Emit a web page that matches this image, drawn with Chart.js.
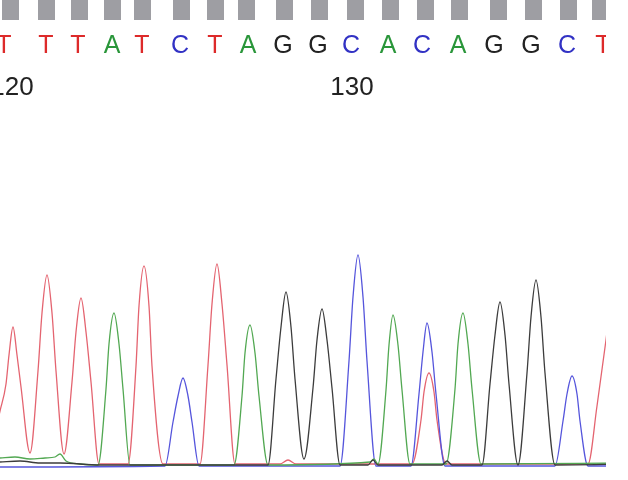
<!DOCTYPE html>
<html>
<head>
<meta charset="utf-8">
<script src="https://cdn.jsdelivr.net/npm/chart.js@4/dist/chart.umd.min.js"></script>
<style>
  body { margin:0; background:#fff; }
  #clip { width:606px; height:480px; overflow:hidden; }
</style>
</head>
<body>
<div id="clip"><canvas id="traza" width="628" height="480"></canvas></div>
<script>
// base calls (top row), letter positions and quality bar positions
const basePos = [4, 46, 78, 112, 142, 180, 215, 248, 283, 318, 351, 388, 422, 458, 494, 531, 567, 603];
const barPos = [10, 46, 79, 113, 142, 181, 215, 246, 284, 319, 355, 390, 425, 460, 498, 533, 568, 600];
const baseCalls = ['T','T','T','A','T','C','T','A','G','G','C','A','C','A','G','G','C','T'];
const numPos = [12, 352];
const numLabels = ['120', '130'];

// traces: scan position / signal
const tX = [-8, 0, 6, 9, 13, 17, 21, 30, 38, 42, 47, 52, 56, 64, 72, 76, 81, 86, 91, 99, 128, 136, 139, 144, 149, 152, 163, 200, 208, 212, 217, 222, 227, 235, 280, 288, 296, 412, 421, 424, 429, 434, 437, 446, 588, 597, 606, 614];
const tY = [20, 55, 82, 111, 139, 111, 79, 13, 95, 153, 191, 153, 95, 12, 84, 134, 168, 134, 84, 2, 2, 100, 160, 200, 160, 100, 2, 2, 101, 162, 202, 162, 101, 2, 2, 6, 2, 2, 46, 74, 93, 74, 46, 2, 2, 60, 126, 190];
const aX = [0, 15, 30, 45, 55, 60, 66, 80, 98, 106, 109, 114, 119, 123, 130, 234, 242, 245, 250, 255, 259, 268, 370, 374, 378, 386, 389, 393, 398, 402, 410, 446, 455, 458, 463, 468, 472, 481, 628];
const aY = [8, 9, 7, 8, 9, 12, 5, 2, 1, 77, 122, 153, 122, 77, 1, 1, 70, 113, 141, 113, 70, 1, 4, 7, 2, 76, 121, 151, 121, 76, 2, 2, 77, 122, 153, 122, 77, 2, 3];
const cX = [0, 165, 173, 178, 183, 188, 192, 199, 340, 349, 353, 358, 363, 367, 376, 411, 419, 423, 427, 432, 436, 445, 555, 563, 567, 572, 577, 580, 588, 628];
const cY = [-1, 0, 44, 70, 88, 70, 44, 0, 0, 105, 169, 211, 169, 105, 0, 0, 72, 114, 143, 114, 72, 0, 0, 45, 72, 90, 72, 45, 0, 0];
const gX = [0, 20, 40, 60, 100, 268, 276, 281, 286, 291, 295, 304, 313, 317, 322, 327, 332, 340, 368, 373, 378, 442, 447, 452, 482, 490, 495, 500, 505, 509, 518, 527, 531, 536, 541, 545, 555, 628];
const gY = [4, 5, 3, 3, 1, 1, 87, 139, 174, 139, 87, 7, 78, 126, 157, 126, 78, 1, 1, 6, 1, 1, 5, 1, 1, 82, 131, 164, 131, 82, 1, 93, 149, 186, 149, 93, 1, 2];

const colLetra = { T:'#dd2a2a', A:'#2a963a', C:'#3232c4', G:'#222222' };

function serie(xs, ys){ return xs.map((x,i)=>({x:x, y:ys[i]})); }
function traza(label, xs, ys, color){
    return { label, data: serie(xs, ys), borderColor: color, borderWidth: 1.3,
             pointRadius: 0, cubicInterpolationMode: 'monotone', fill: false };
}
// sin relleno lateral en los ejes de arriba
function sinPadding(a, h){
    a.height = h;
    a.paddingLeft = 0; a.paddingRight = 0;
}

new Chart(document.getElementById("traza").getContext("2d"), {
    type: 'line',
    data: { datasets: [
        traza('G', gX, gY, '#3c3c3c'),
        traza('A', aX, aY, '#52a852'),
        traza('C', cX, cY, '#5555dc'),
        traza('T', tX, tY, '#e46470')
    ]},
    options: {
        responsive: false,
        animation: false,
        layout: { padding: 0, autoPadding: false },
        plugins: { legend: { display: false }, tooltip: { enabled: false } },
        scales: {
            x: { type: 'linear', min: 0, max: 628, display: false },
            y: { min: -14, max: 358, display: false },
            xBar: {
                type: 'linear', position: 'top', min: 0, max: 628, weight: 3,
                afterBuildTicks: a => { a.ticks = barPos.map(v => ({value: v})); },
                afterFit: a => sinPadding(a, 20),
                ticks: { display: false },
                border: { display: false },
                grid: { drawOnChartArea: false, drawTicks: true, tickLength: 20, lineWidth: 17, color: '#9e9ea3' }
            },
            xBase: {
                type: 'linear', position: 'top', min: 0, max: 628, weight: 2,
                afterBuildTicks: a => { a.ticks = basePos.map(v => ({value: v})); },
                afterFit: a => sinPadding(a, 46),
                border: { display: false },
                grid: { display: false, drawTicks: false },
                ticks: {
                    autoSkip: false, maxRotation: 0, padding: 5,
                    font: { family: 'Liberation Sans', size: 25 },
                    color: c => colLetra[baseCalls[c.index]],
                    callback: (v, i) => baseCalls[i]
                }
            },
            xNum: {
                type: 'linear', position: 'top', min: 0, max: 628, weight: 1,
                afterBuildTicks: a => { a.ticks = numPos.map(v => ({value: v})); },
                afterFit: a => sinPadding(a, 42),
                border: { display: false },
                grid: { display: false, drawTicks: false },
                ticks: {
                    autoSkip: false, maxRotation: 0, padding: 5,
                    font: { family: 'Liberation Sans', size: 26 },
                    color: '#222',
                    callback: (v, i) => numLabels[i]
                }
            }
        }
    }
});
</script>
</body>
</html>
